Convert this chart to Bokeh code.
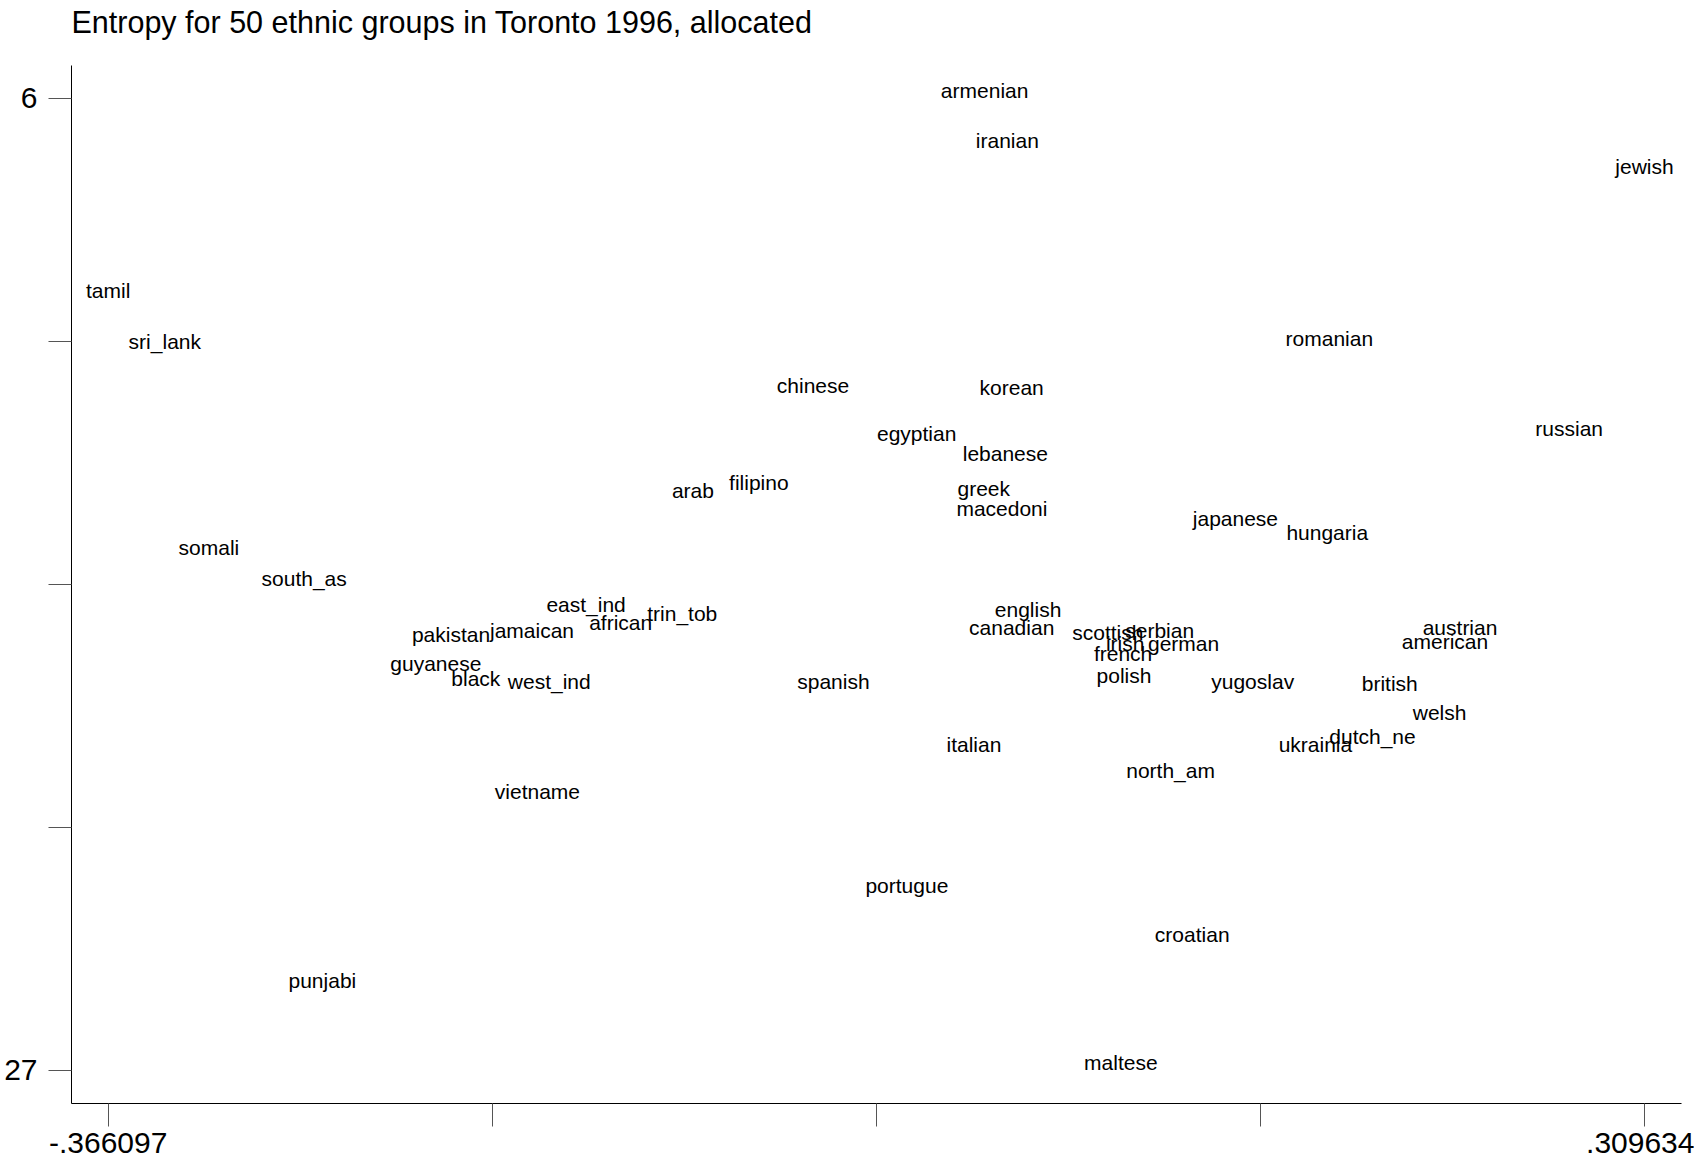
from bokeh.plotting import figure
from bokeh.models import ColumnDataSource, FixedTicker, Range1d, Title
from bokeh.core.properties import value
from bokeh.embed import file_html
from bokeh.resources import INLINE

groups = ["armenian", "iranian", "jewish", "tamil", "sri_lank", "romanian", "chinese", "korean",
          "russian", "egyptian", "lebanese", "arab", "filipino", "greek", "macedoni", "japanese",
          "hungaria", "somali", "south_as", "east_ind", "trin_tob", "african", "english", "canadian",
          "scottish", "serbian", "austrian", "american", "irish", "german", "french", "pakistan",
          "jamaican", "guyanese", "black", "west_ind", "spanish", "polish", "yugoslav", "british",
          "welsh", "dutch_ne", "ukrainia", "italian", "north_am", "vietname", "portugue", "croatian",
          "punjabi", "maltese"]

x_vals = [0.0194, 0.0294, 0.309634, -0.366097, -0.3412, 0.1710, -0.0561, 0.0313,
          0.2765, -0.0105, 0.0285, -0.1089, -0.0799, 0.0190, 0.0270, 0.1297,
          0.1701, -0.3218, -0.2799, -0.1559, -0.1136, -0.1407, 0.0385, 0.0313,
          0.0736, 0.0964, 0.2285, 0.2219, 0.0812, 0.1069, 0.0803, -0.2153,
          -0.1797, -0.2220, -0.2044, -0.1721, -0.0471, 0.0807, 0.1373, 0.1976,
          0.2195, 0.1900, 0.1649, 0.0147, 0.1012, -0.1773, -0.0148, 0.1107,
          -0.2719, 0.0793]

y_vals = [0.96, 0.9240, 0.9056, 0.8182, 0.7814, 0.7837, 0.7507, 0.7492,
          0.7200, 0.7162, 0.7024, 0.6756, 0.6817, 0.6771, 0.6633, 0.6564,
          0.6464, 0.6357, 0.6135, 0.5951, 0.5889, 0.5820, 0.5912, 0.5790,
          0.5751, 0.5767, 0.5790, 0.5690, 0.5675, 0.5675, 0.5606, 0.5736,
          0.5767, 0.5529, 0.5422, 0.5406, 0.5406, 0.5445, 0.5406, 0.5391,
          0.5184, 0.5015, 0.4954, 0.4954, 0.4770, 0.4624, 0.3957, 0.3605,
          0.3282, 0.27]

x_ticks = [-0.366097, -0.1971637, -0.0282315, 0.1407013, 0.309634]
x_tick_labels = ["-.366097", "", "", "", ".309634"]
y_ticks = [0.27, 0.4425, 0.615, 0.7875, 0.96]
y_tick_labels = ["27", "", "", "", "6"]

title_text = "Entropy for 50 ethnic groups in Toronto 1996, allocated"

FONT = "Liberation Sans"

p = figure(width=1694, height=1155, output_backend="svg", toolbar_location=None,
           x_range=Range1d(-0.382239, 0.325908), y_range=Range1d(0.246581, 0.983206),
           min_border_left=71, min_border_right=13, min_border_top=65, min_border_bottom=52,
           title=title_text)

# invisible spacer between the title and the frame
p.add_layout(Title(text=" ", text_font_size="1px", standoff=24), "above")

p.title.text_font = FONT
p.title.text_font_size = "30.5px"
p.title.text_font_style = "normal"
p.title.text_color = "black"
p.title.align = "left"
p.title.standoff = 0

p.outline_line_color = None
p.xgrid.visible = False
p.ygrid.visible = False
p.background_fill_color = "white"
p.border_fill_color = "white"

src = ColumnDataSource(dict(x=x_vals, y=y_vals, name=groups))
p.text(x="x", y="y", text="name", source=src, text_font=value(FONT), text_font_size="21px",
       text_align="center", text_baseline="middle", y_offset=-8, text_color="black")

for ax, ticks, labels in ((p.xaxis[0], x_ticks, x_tick_labels), (p.yaxis[0], y_ticks, y_tick_labels)):
    ax.ticker = FixedTicker(ticks=ticks)
    ax.major_label_overrides = {t: l for t, l in zip(ticks, labels)}
    ax.major_tick_out = 23
    ax.major_tick_in = 0
    ax.minor_tick_out = 0
    ax.minor_tick_in = 0
    ax.axis_line_color = "black"
    ax.axis_line_width = 1
    ax.major_tick_line_color = "#555555"
    ax.major_tick_line_width = 1
    ax.major_label_text_font = FONT
    ax.major_label_text_font_size = "30px"
    ax.major_label_text_color = "black"

p.xaxis.major_label_standoff = 6
p.yaxis.major_label_standoff = 11
p.yaxis.major_label_orientation = "horizontal"

open("out.html", "w").write(file_html(p, INLINE))
